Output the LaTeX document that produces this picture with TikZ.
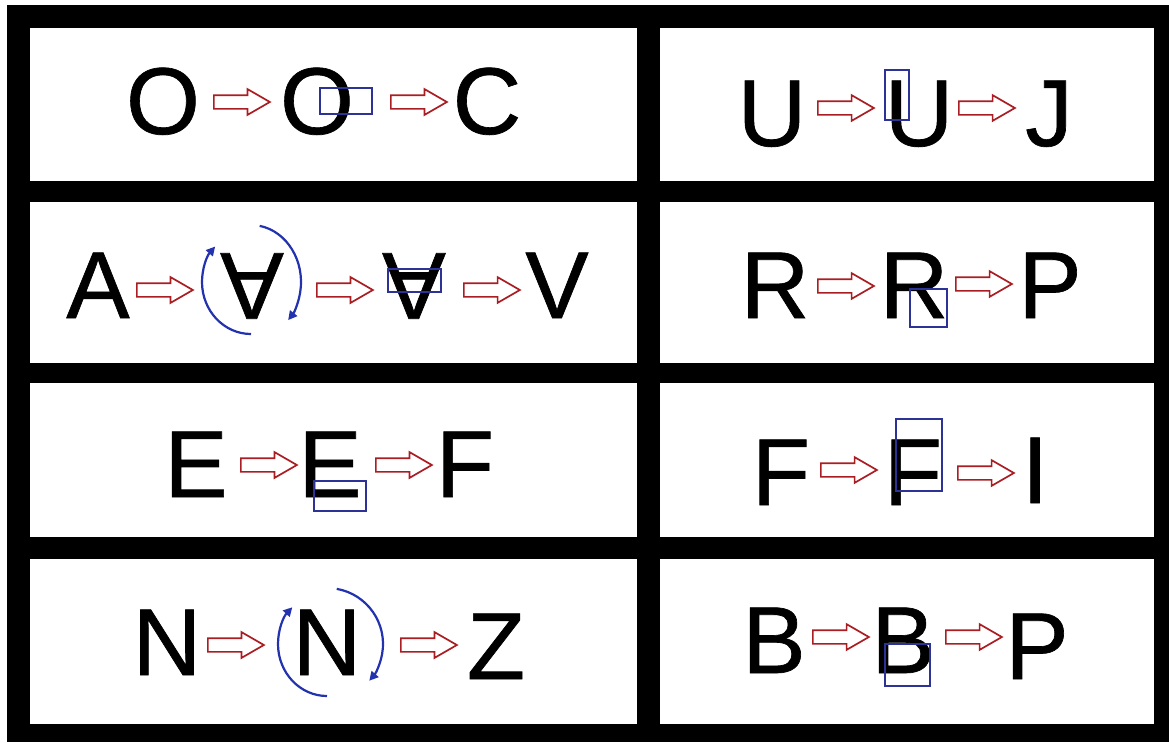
\documentclass[tikz,border=0pt]{standalone}
\usepackage{fontspec}
\setmainfont{Liberation Sans}
\newfontfamily\glyphfont[FakeBold=0.7]{Liberation Sans}
\usetikzlibrary{shapes.arrows,arrows.meta,positioning,calc}
\definecolor{flowRed}{RGB}{170,30,35}
\definecolor{maskBlue}{RGB}{45,50,150}
\definecolor{turnBlue}{RGB}{35,50,175}

\tikzset{
  glyph/.style={font=\glyphfont\fontsize{95}{95}\selectfont,inner sep=0pt,anchor=base},
  flipglyph/.style={font=\glyphfont\fontsize{95}{95}\selectfont,inner sep=0pt,rotate=180},
  hollow/.style={single arrow,draw=flowRed,line width=1.7pt,fill=white,
                 minimum height=56pt,single arrow head extend=6pt,
                 single arrow tip angle=60,inner xsep=0pt,inner ysep=6pt,anchor=tail},
  mask/.style={draw=maskBlue,line width=1.6pt},
  turn/.style={draw=turnBlue,line width=2.2pt,-{Triangle[length=9pt,width=9pt]}}
}

\begin{document}
\begin{tikzpicture}[x=1pt,y=-1pt]
\useasboundingbox (0,0) rectangle (1169,742);
% black frame and white cells
\fill[black] (7,5) rectangle (1169,742);
\foreach \ya/\yb in {28/181,202/363,383/537,559/724}{
  \fill[white] (30,\ya) rectangle (637,\yb);
  \fill[white] (660,\ya) rectangle (1154,\yb);
}

% O -> O -> C
\node[glyph] (o1) at (163,134) {O};
\node[glyph] (o2) at (317,134) {O};
\node[glyph] (c1) at (487,134) {C};
\node[hollow] (oar1) at (213,102) {};
\node[hollow] (oar2) at (390,102) {};
\draw[mask] (320,88) rectangle (372,114);

% A -> rotated A -> V
\node[glyph] (a1) at (98,318) {A};
\node[flipglyph] (a2) at (252,286) {A};
\node[flipglyph] (a3) at (414,286) {A};
\node[glyph] (v1) at (557,318) {V};
\node[hollow] (aar1) at (136,290) {};
\node[hollow] (aar2) at (316,290) {};
\node[hollow] (aar3) at (463,290) {};
\draw[mask] (388,269) rectangle (441,292);
\coordinate (spinA) at (251,282);
\draw[turn] ([shift={(90:49 and 52)}]spinA) arc[start angle=90,end angle=223,x radius=49,y radius=52];
\draw[turn] ([shift={(280:50 and 57)}]spinA) arc[start angle=280,end angle=402,x radius=50,y radius=57];

% E -> E -> F
\node[glyph] (e1) at (196,497) {E};
\node[glyph] (e2) at (330,497) {E};
\node[glyph] (f1) at (465,497) {F};
\node[hollow] (ear1) at (240,465) {};
\node[hollow] (ear2) at (375,465) {};
\draw[mask] (314,481) rectangle (366,511);

% N -> N -> Z
\node[glyph] (n1) at (167,675) {N};
\node[glyph] (n2) at (327,675) {N};
\node[glyph] (z1) at (496,679) {Z};
\node[hollow] (nar1) at (207,645) {};
\node[hollow] (nar2) at (400,645) {};
\coordinate (spinN) at (327,644);
\draw[turn] ([shift={(90:49 and 52)}]spinN) arc[start angle=90,end angle=225,x radius=49,y radius=52];
\draw[turn] ([shift={(280:56 and 56)}]spinN) arc[start angle=280,end angle=401,x radius=56,y radius=56];

% U -> U -> J
\node[glyph] (u1) at (772,146) {U};
\node[glyph] (u2) at (919,146) {U};
\node[glyph] (j1) at (1049,146) {J};
\node[hollow] (uar1) at (817,108) {};
\node[hollow] (uar2) at (958,108) {};
\draw[mask] (885,70) rectangle (909,120);

% R -> R -> P
\node[glyph] (r1) at (775,318) {R};
\node[glyph] (r2) at (914,318) {R};
\node[glyph] (p1) at (1050,318) {P};
\node[hollow] (rar1) at (817,286) {};
\node[hollow] (rar2) at (955,284) {};
\draw[mask] (910,289) rectangle (947,327);

% F -> F -> I
\node[glyph] (f2) at (781,505) {F};
\node[glyph] (f3) at (913,505) {F};
\node[glyph] (i1) at (1035,503) {I};
\node[hollow] (far1) at (820,470) {};
\node[hollow] (far2) at (957,473) {};
\draw[mask] (896,419) rectangle (942,491);

% B -> B -> P
\node[glyph] (b1) at (774,673) {B};
\node[glyph] (b2) at (903,673) {B};
\node[glyph] (p2) at (1037,679) {P};
\node[hollow] (bar1) at (812,637) {};
\node[hollow] (bar2) at (945,637) {};
\draw[mask] (885,644) rectangle (930,686);
\end{tikzpicture}
\end{document}
